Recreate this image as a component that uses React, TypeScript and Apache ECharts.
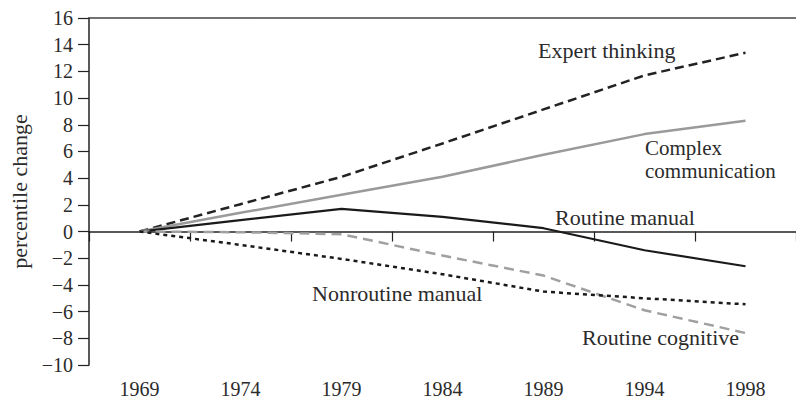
import React, { useEffect, useRef } from "react";
import * as echarts from "echarts";

const years = ["1969", "1974", "1979", "1984", "1989", "1994", "1998"];
const expertThinking = [0, 2.05, 4.1, 6.6, 9.15, 11.7, 13.4];
const complexCommunication = [0, 1.4, 2.75, 4.1, 5.75, 7.3, 8.3];
const routineManual = [0, 0.85, 1.7, 1.1, 0.25, -1.4, -2.6];
const routineCognitive = [0, -0.05, -0.2, -1.8, -3.3, -5.9, -7.6];
const nonroutineManual = [0, -1.0, -2.05, -3.2, -4.5, -5.0, -5.45];

const FONT = "Liberation Serif";
const TEXT = "#2b2b2b";

export default function App() {
  const ref = useRef<HTMLDivElement>(null);
  useEffect(() => {
    if (!ref.current) return;
    const chart = echarts.init(ref.current, undefined, { renderer: "svg" });
    const text = (t: string, x: number, y: number, size = 22) => ({
      type: "text",
      x,
      y,
      silent: true,
      style: {
        text: t,
        font: `${size}px "${FONT}"`,
        fill: TEXT,
        lineHeight: size,
        textVerticalAlign: "middle",
      },
    });
    chart.setOption({
      animation: false,
      backgroundColor: "#ffffff",
      grid: { left: 89, top: 18, width: 721, height: 347, containLabel: false },
      xAxis: [
        {
          type: "category",
          data: years,
          boundaryGap: true,
          position: "bottom",
          axisLine: { show: true, lineStyle: { color: "#222", width: 1.5 } },
          axisTick: { show: true, length: 10, lineStyle: { color: "#222", width: 1.2 } },
          axisLabel: { color: TEXT, fontFamily: FONT, fontSize: 20, margin: 14 },
          splitLine: { show: false },
        },
        {
          type: "category",
          data: years,
          position: "top",
          axisLine: { show: true, onZero: false, lineStyle: { color: "#444", width: 1.5 } },
          axisTick: { show: false },
          axisLabel: { show: false },
          splitLine: { show: false },
        },
      ],
      yAxis: {
        type: "value",
        min: -10,
        max: 16,
        interval: 2,
        name: "percentile change",
        nameLocation: "middle",
        nameGap: 57,
        nameTextStyle: { color: TEXT, fontFamily: FONT, fontSize: 22 },
        axisLine: { show: true, lineStyle: { color: "#222", width: 1.5 } },
        axisTick: { show: true, length: 11, lineStyle: { color: "#222", width: 1.2 } },
        axisLabel: {
          color: TEXT,
          fontFamily: FONT,
          fontSize: 20,
          margin: 16,
          formatter: (v: number) => String(v).replace("-", "\u2212"),
        },
        splitLine: { show: false },
      },
      series: [
        {
          name: "Expert thinking",
          type: "line",
          data: expertThinking,
          symbol: "none",
          lineStyle: { color: "#222", width: 2.5, type: [9, 5] },
        },
        {
          name: "Complex communication",
          type: "line",
          data: complexCommunication,
          symbol: "none",
          lineStyle: { color: "#9a9a9a", width: 2.5, type: "solid" },
        },
        {
          name: "Routine manual",
          type: "line",
          data: routineManual,
          symbol: "none",
          lineStyle: { color: "#1a1a1a", width: 2.2, type: "solid" },
        },
        {
          name: "Routine cognitive",
          type: "line",
          data: routineCognitive,
          symbol: "none",
          lineStyle: { color: "#a0a0a0", width: 2.5, type: [10, 6] },
        },
        {
          name: "Nonroutine manual",
          type: "line",
          data: nonroutineManual,
          symbol: "none",
          lineStyle: { color: "#1a1a1a", width: 2.5, type: [4, 4] },
        },
      ],
      graphic: [
        text("Expert thinking", 538, 50.5),
        text("Complex", 645, 147.5, 21),
        text("communication", 645, 171, 21),
        text("Routine manual", 555, 217),
        text("Nonroutine manual", 312, 293),
        text("Routine cognitive", 582, 337.5),
      ],
    });
    return () => chart.dispose();
  }, []);
  return (
    <div
      ref={ref}
      style={{ position: "fixed", left: 0, top: 0, width: 796, height: 400, background: "#fff" }}
    />
  );
}
